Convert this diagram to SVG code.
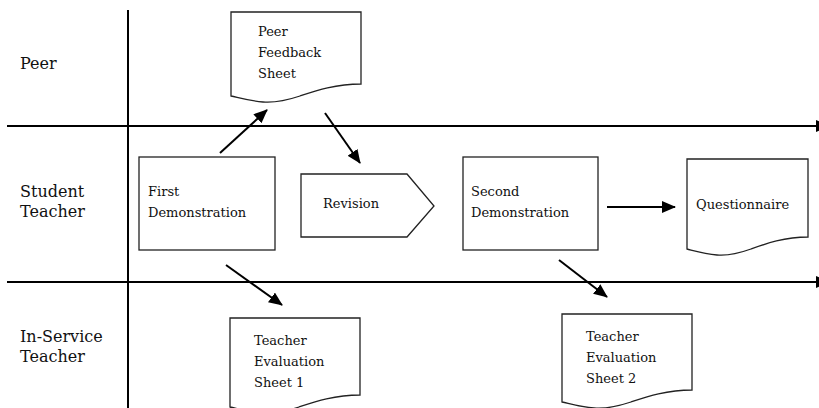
<svg xmlns="http://www.w3.org/2000/svg" width="819" height="408" viewBox="0 0 819 408">
<defs>
<marker id="ah" markerUnits="userSpaceOnUse" markerWidth="14" markerHeight="12" viewBox="0 0 14 12" refX="13" refY="6" orient="auto">
<path d="M0,0 L14,6 L0,12 Z" fill="#000"/>
</marker>
<style>
.lane{font-family:"DejaVu Serif","Liberation Serif",serif;font-size:16px;fill:#111}
.t{font-family:"DejaVu Serif","Liberation Serif",serif;font-size:13px;fill:#111}
.box{fill:#fff;stroke:#222;stroke-width:1.3}
.sep{stroke:#000;stroke-width:2;fill:none}
.arr{stroke:#000;stroke-width:2;fill:none;marker-end:url(#ah)}
</style>
</defs>
<g id="lanes">
<line class="sep" x1="128" y1="10" x2="128" y2="408"/>
<line class="sep" x1="7" y1="126" x2="829" y2="126" marker-end="url(#ah)"/>
<line class="sep" x1="7" y1="282" x2="829" y2="282" marker-end="url(#ah)"/>
<text class="lane" x="20" y="69">Peer</text>
<text class="lane" x="20" y="197">Student</text>
<text class="lane" x="20" y="217">Teacher</text>
<text class="lane" x="20" y="342">In-Service</text>
<text class="lane" x="20" y="362">Teacher</text>
</g>
<g id="peer-feedback">
<path class="box" d="M231,12 H361 V84 C335,84 315,91 300,96 C285,101 275,103 263,102 C250,101 240,98 231,96 Z"/>
<text class="t" x="258" y="36">Peer</text>
<text class="t" x="258" y="57">Feedback</text>
<text class="t" x="258" y="78">Sheet</text>
</g>
<g id="first-demo">
<rect class="box" x="139" y="157" width="136" height="93"/>
<text class="t" x="148" y="196">First</text>
<text class="t" x="148" y="217">Demonstration</text>
</g>
<g id="revision">
<path class="box" d="M301,174 H407 L434,206 L407,237 H301 Z"/>
<text class="t" x="323" y="208">Revision</text>
</g>
<g id="second-demo">
<rect class="box" x="463" y="157" width="135" height="93"/>
<text class="t" x="471" y="196">Second</text>
<text class="t" x="471" y="217">Demonstration</text>
</g>
<g id="questionnaire">
<path class="box" d="M687,159 H808 V237 C784,237 765,244 751,249 C737,254 728,256 717,255 C705,254 695,251 687,249 Z"/>
<text class="t" x="696" y="209">Questionnaire</text>
</g>
<g id="tes1">
<path class="box" d="M230,318 H360 V395 C334,395 314,402 299,407 C284,412 274,414 262,413 C249,412 239,409 230,407 Z"/>
<text class="t" x="254" y="345">Teacher</text>
<text class="t" x="254" y="366">Evaluation</text>
<text class="t" x="254" y="387">Sheet 1</text>
</g>
<g id="tes2">
<path class="box" d="M562,314 H692 V390 C666,390 646,397 631,402 C616,407 606,409 594,408 C581,407 571,404 562,402 Z"/>
<text class="t" x="586" y="341">Teacher</text>
<text class="t" x="586" y="362">Evaluation</text>
<text class="t" x="586" y="383">Sheet 2</text>
</g>
<g id="connectors">
<line class="arr" x1="220" y1="153" x2="267" y2="110"/>
<line class="arr" x1="325" y1="113" x2="360" y2="163"/>
<line class="arr" x1="226" y1="265" x2="282" y2="305"/>
<line class="arr" x1="559" y1="260" x2="607" y2="297"/>
<line class="arr" x1="607" y1="207" x2="675" y2="207"/>
</g>
</svg>
